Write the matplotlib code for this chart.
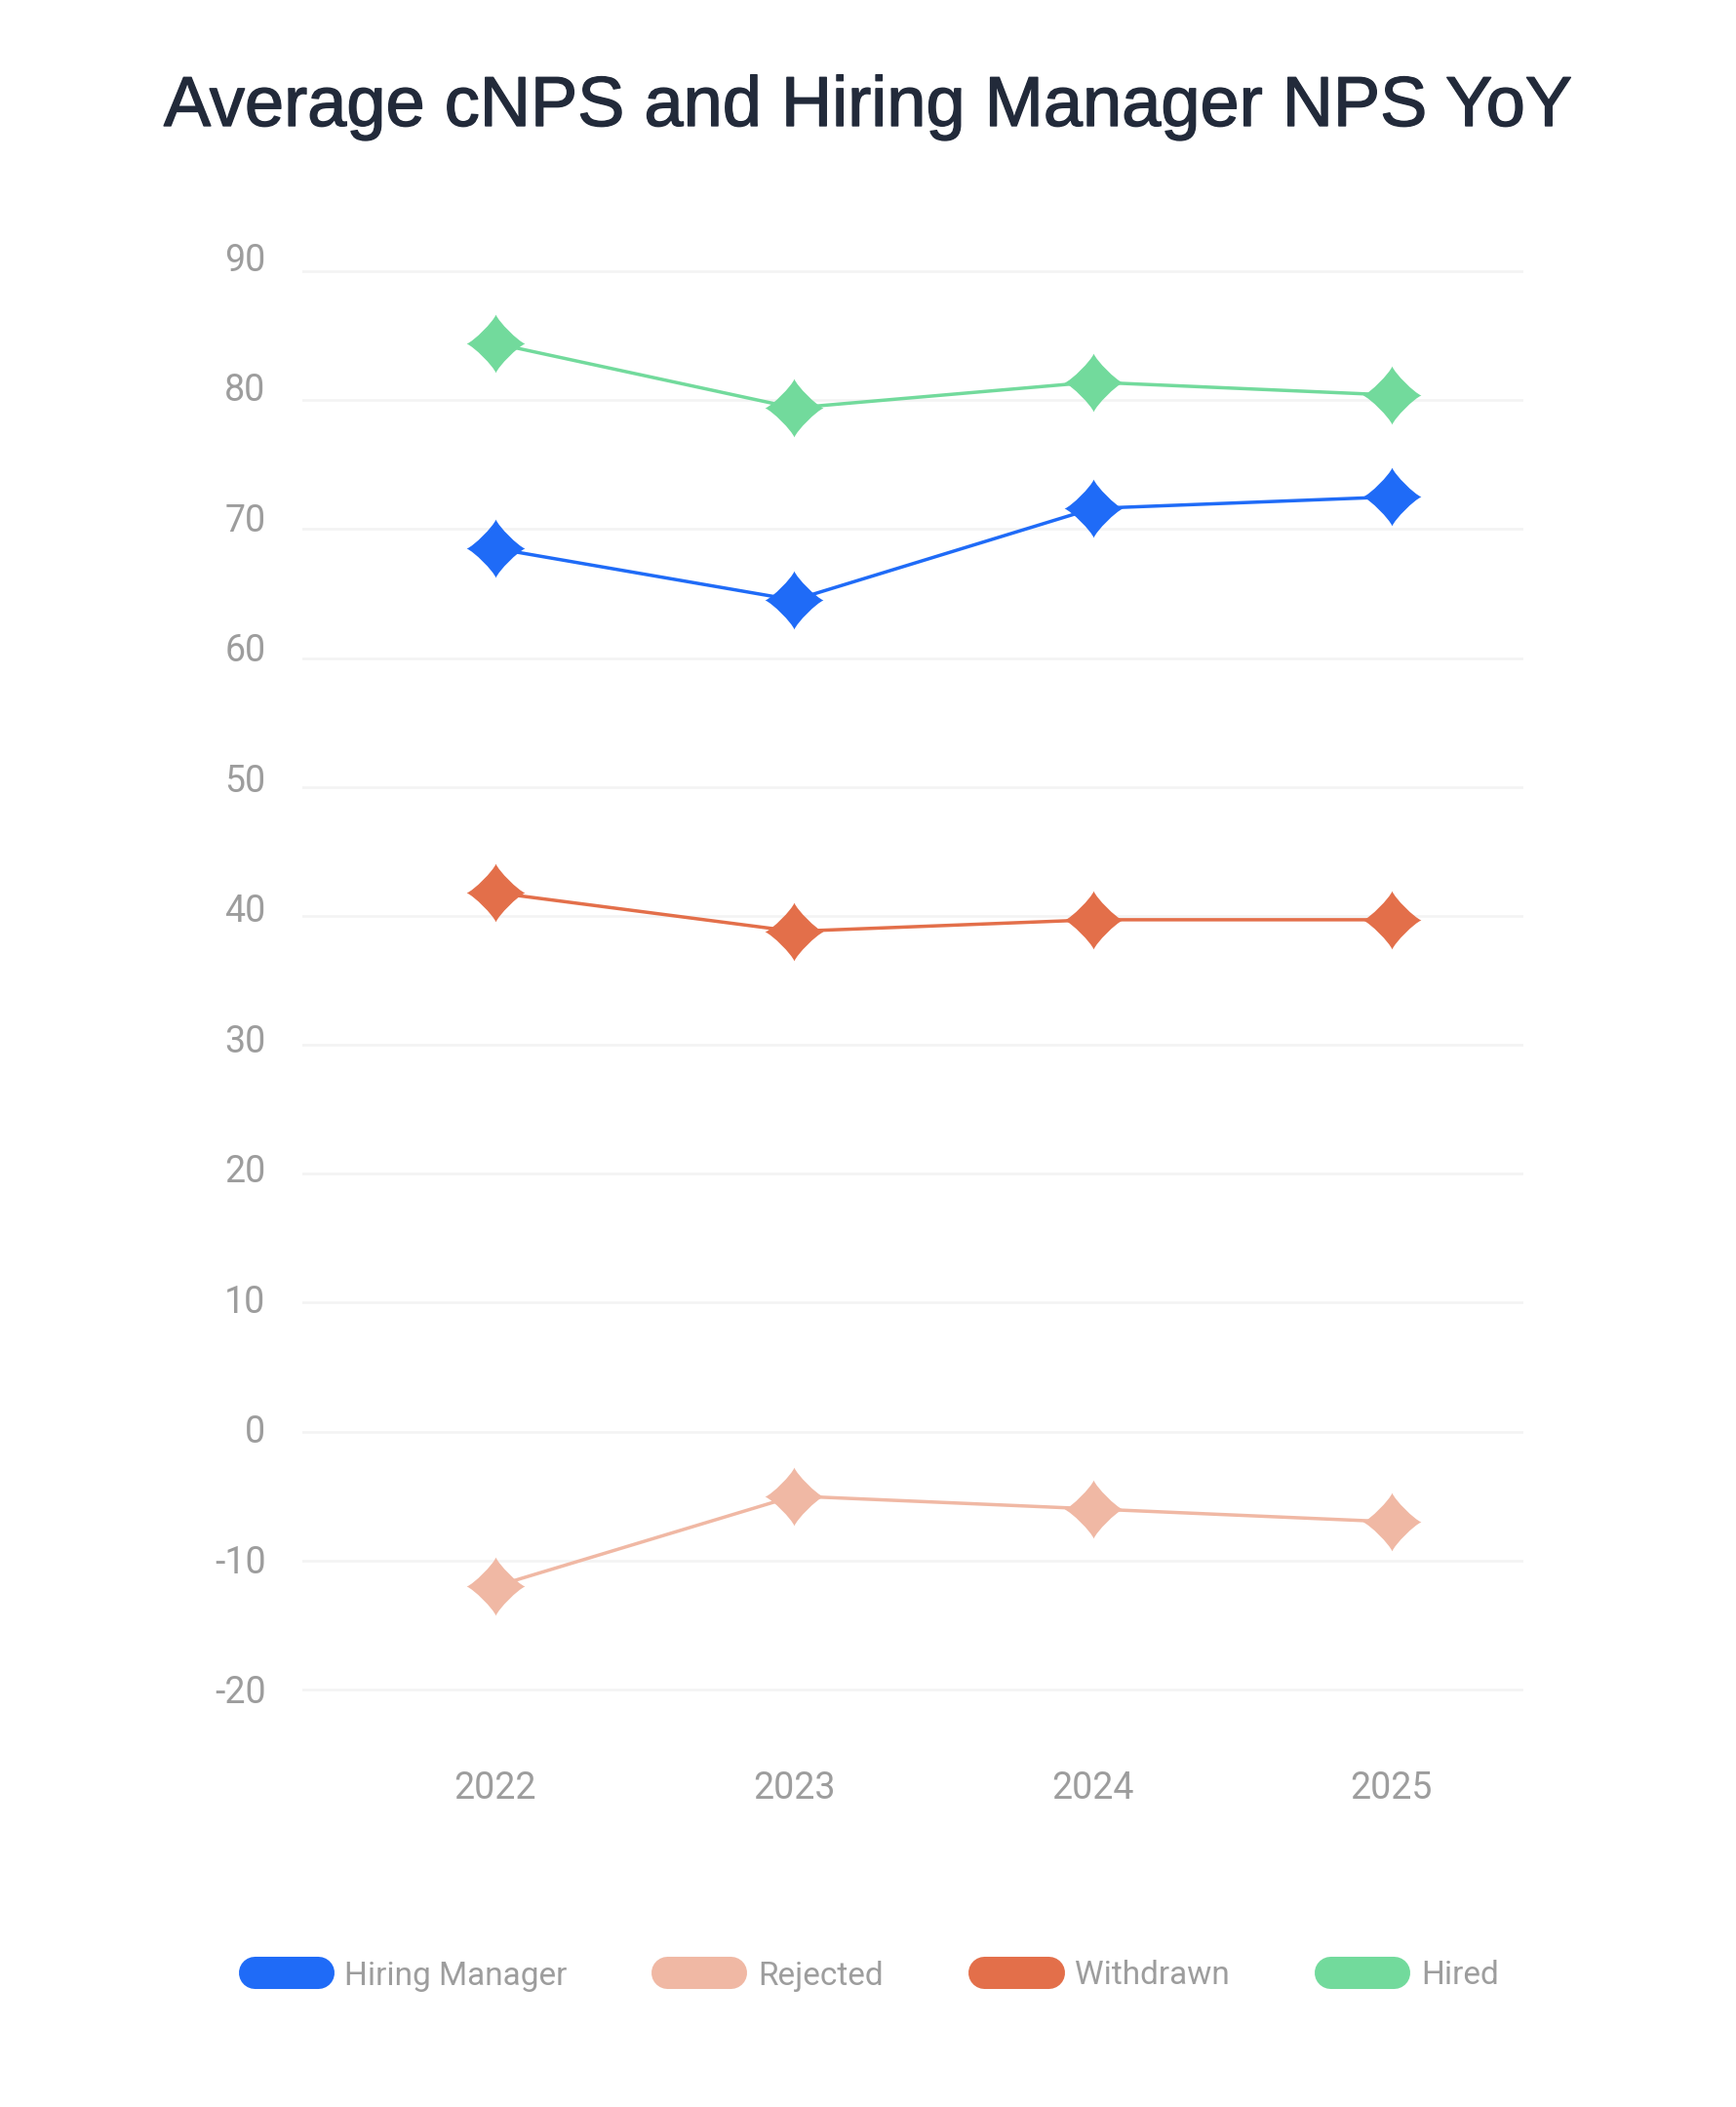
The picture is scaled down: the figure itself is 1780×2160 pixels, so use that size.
import numpy as np
import matplotlib
matplotlib.use("Agg")
import matplotlib.pyplot as plt
import matplotlib.transforms as mtransforms
import matplotlib.patheffects as pe
from matplotlib.path import Path
from matplotlib.lines import Line2D

# данные
years = ["2022", "2023", "2024", "2025"]
series_names = ["Hiring Manager", "Rejected", "Withdrawn", "Hired"]
hiring_manager = [68.5, 64.5, 71.6, 72.5]
rejected = [-12.0, -5.0, -6.0, -7.0]
withdrawn = [41.8, 38.8, 39.7, 39.7]
hired = [84.4, 79.4, 81.4, 80.4]
colors = ["#1f6bf7", "#f0b8a4", "#e36f4a", "#72da9c"]
yticks = list(range(-20, 100, 10))

# маркер: ромб-звёздочка с вогнутыми сторонами
pts = [(0, 1), (0.1, 0.75), (0.75, 0.1), (1, 0),
       (0.75, -0.1), (0.1, -0.75), (0, -1),
       (-0.1, -0.75), (-0.75, -0.1), (-1, 0),
       (-0.75, 0.1), (-0.1, 0.75), (0, 1)]
codes = [Path.MOVETO] + [Path.CURVE4] * 12
star = Path(pts, codes)

W, H = 1781, 2160
fig = plt.figure(figsize=(W / 100, H / 100), dpi=100)
ax = fig.add_axes([310 / W, 1 - 1798 / H, 1252 / W, (1798 - 212) / H])

x = np.arange(len(years))
for vals, c in zip([hiring_manager, rejected, withdrawn, hired], colors):
    ax.plot(x, vals, color=c, lw=2.5, zorder=3)
    ax.plot(x, vals, ls='none', marker=star, ms=43, color=c, mec='none', zorder=4)

ax.set_xlim(-0.646, 3.441)
ax.set_ylim(-25, 95)
ax.set_yticks(yticks)
ax.set_yticklabels([str(v) for v in yticks])
ax.set_xticks(x)
ax.set_xticklabels(years)
for v in yticks:
    ax.axhline(v, color='#f3f3f3', lw=1.8, zorder=1)
for s in ax.spines.values():
    s.set_visible(False)
ax.tick_params(length=0, colors='#9d9d9d', labelsize=27)
ax.tick_params(axis='y', pad=27)
ax.tick_params(axis='x', pad=12)
for lab in ax.get_xticklabels():
    lab.set_family('Roboto')
# подписи оси Y слегка смещены вверх относительно сетки (как в оригинале)
for v, lab in zip(yticks, ax.get_yticklabels()):
    lab.set_family('Roboto')
    dy = (v + 20) * 0.137 / 100
    lab.set_transform(lab.get_transform() +
                      mtransforms.ScaledTranslation(0, dy, fig.dpi_scale_trans))

fig.text(0.5, 1 - 129 / H, "Average cNPS and Hiring Manager NPS YoY",
         ha='center', va='baseline', fontsize=52, color='#222a3a',
         family='Liberation Sans',
         path_effects=[pe.Stroke(linewidth=1.0, foreground='#222a3a'), pe.Normal()])

# легенда
pill_x = [244, 668, 993, 1348]
ly = 1 - 2022 / H
for name, c, px in zip(series_names, colors, pill_x):
    fig.add_artist(Line2D([(px + 16.5) / W, (px + 98 - 16.5) / W], [ly, ly],
                          transform=fig.transFigure, color=c, lw=23.8,
                          solid_capstyle='round'))
    fig.text((px + 109) / W, ly, name, ha='left', va='center_baseline',
             fontsize=24, color='#9d9d9d', family='Roboto')

fig.savefig("out.png", dpi=100, facecolor='white')
